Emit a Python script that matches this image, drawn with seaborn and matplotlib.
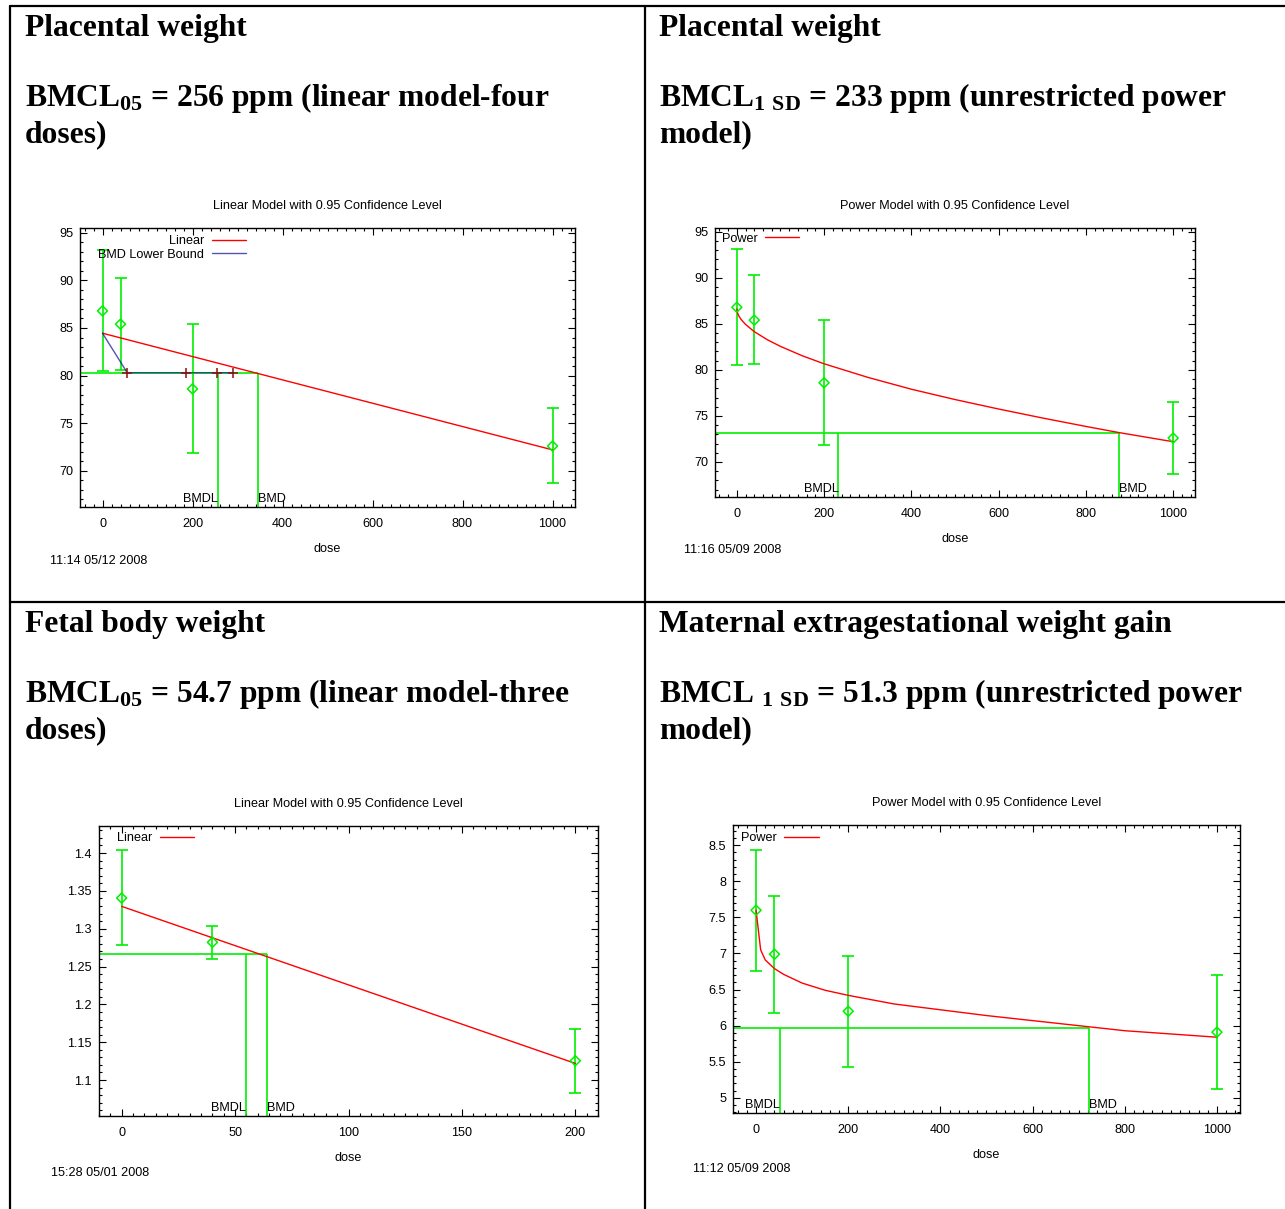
import numpy as np
import matplotlib
matplotlib.use("Agg")
import matplotlib.pyplot as plt
from matplotlib.lines import Line2D
from matplotlib.ticker import MultipleLocator, FormatStrFormatter
import seaborn as sns

# ---- values ----

# Placental weight (same dose groups in both top panels)
pw_dose = [0, 40, 200, 1000]
pw_mean = [86.8, 85.4, 78.6, 72.6]
pw_lo = [80.5, 80.6, 71.85, 68.7]
pw_hi = [93.15, 90.25, 85.4, 76.55]

# linear model, four doses
lin4_dose = [0, 1000]
lin4_fit = [84.45, 72.2]
lin4_bmr = 80.3
lin4_bmdl = 256
lin4_bmd = 345
# BMD lower bound line and its sample points
lb_dose = [0, 55, 290]
lb_fit = [84.45, 80.3, 80.3]
lb_marks = [55, 185, 255, 290]

# unrestricted power model
pow_dose = [0, 2, 5, 10, 20, 40, 70, 100, 150, 200, 300, 400, 500, 600, 700, 800, 875, 1000]
pow_fit = [86.6, 86.13, 85.82, 85.46, 84.93, 84.15, 83.27, 82.55, 81.53, 80.66,
           79.19, 77.9, 76.78, 75.75, 74.78, 73.86, 73.2, 72.2]
pow_bmr = 73.2
pow_bmdl = 233
pow_bmd = 875

# Fetal body weight
fb_dose = [0, 40, 200]
fb_mean = [1.3405, 1.282, 1.1255]
fb_lo = [1.278, 1.2605, 1.083]
fb_hi = [1.404, 1.3035, 1.167]
lin3_dose = [0, 200]
lin3_fit = [1.3295, 1.122]
lin3_bmr = 1.266
lin3_bmdl = 54.7
lin3_bmd = 64.2

# Maternal extragestational weight gain
mw_dose = [0, 40, 200, 1000]
mw_mean = [7.6, 6.99, 6.2, 5.91]
mw_lo = [6.76, 6.17, 5.43, 5.12]
mw_hi = [8.44, 7.8, 6.97, 6.7]
mpow_dose = [0, 10, 20, 30, 40, 60, 100, 150, 200, 250, 300, 400, 500, 600, 700, 800, 1000]
mpow_fit = [7.6, 7.05, 6.91, 6.85, 6.79, 6.71, 6.59, 6.49, 6.42, 6.36, 6.30,
            6.22, 6.14, 6.07, 6.0, 5.93, 5.84]
mpow_bmr = 5.97
mpow_bmdl = 51.3
mpow_bmd = 723

# ---- style ----
sns.set_style("ticks")
plt.rcParams['font.family'] = ['Liberation Sans', 'DejaVu Sans']
plt.rcParams['mathtext.default'] = 'regular'
for key in ['text.color', 'axes.labelcolor', 'xtick.color', 'ytick.color']:
    plt.rcParams[key] = 'black'

GREEN = '#00f000'
RED = '#ff0000'
NAVY = '#1a1a9a'
FS = 9.1
W, H = 1285, 1209

fig = plt.figure(figsize=(W / 100, H / 100), dpi=100)


# place axes by pixel box of the reference
def px_axes(left, top, right, bottom):
    return fig.add_axes([left / W, 1 - bottom / H, (right - left) / W, (bottom - top) / H])


def style_axes(ax, xlim, ylim, xmaj, xmin, ymaj, ymin, title):
    ax.set_xlim(*xlim)
    ax.set_ylim(*ylim)
    ax.xaxis.set_major_locator(MultipleLocator(xmaj))
    ax.xaxis.set_minor_locator(MultipleLocator(xmin))
    ax.yaxis.set_major_locator(MultipleLocator(ymaj))
    ax.yaxis.set_minor_locator(MultipleLocator(ymin))
    ax.yaxis.set_major_formatter(FormatStrFormatter('%g'))
    ax.tick_params(which='both', direction='in', top=True, right=True, width=0.8,
                   labelsize=FS, colors='black')
    ax.tick_params(which='major', length=5)
    ax.tick_params(which='minor', length=2.5)
    ax.tick_params(axis='x', pad=8)
    ax.tick_params(axis='y', pad=5)
    for s in ax.spines.values():
        s.set_visible(True)
        s.set_linewidth(1.0)
        s.set_color('black')
    ax.set_xlabel('dose', fontsize=FS, labelpad=9)
    ax.set_ylabel('')
    ax.set_title(title, fontsize=FS, pad=14)


def draw_data(ax, dose, mean, lo, hi):
    mean = np.array(mean)
    yerr = [mean - np.array(lo), np.array(hi) - mean]
    ax.errorbar(dose, mean, yerr=yerr, fmt='none', ecolor=GREEN, elinewidth=1.2,
                capsize=4.5, capthick=1.2, zorder=3)
    sns.scatterplot(x=dose, y=mean, ax=ax, marker='D', s=26, facecolor='none',
                    edgecolor=GREEN, linewidth=1.1, zorder=5)


def draw_bmd(ax, bmr, bmdl, bmd):
    x0 = ax.get_xlim()[0]
    y0 = ax.get_ylim()[0]
    ax.hlines(bmr, x0, bmd, color=GREEN, lw=1.2, zorder=2)
    ax.vlines([bmdl, bmd], y0, bmr, color=GREEN, lw=1.2, zorder=2)
    tr = ax.get_xaxis_transform()
    ax.annotate('BMDL', xy=(bmdl, 0), xycoords=tr, xytext=(0, 1.5), textcoords='offset points',
                ha='right', va='bottom', fontsize=FS)
    ax.annotate('BMD', xy=(bmd, 0), xycoords=tr, xytext=(0, 1.5), textcoords='offset points',
                ha='left', va='bottom', fontsize=FS)


def gp_legend(ax, loc, anchor):
    ax.legend(loc=loc, bbox_to_anchor=anchor, frameon=False, markerfirst=False,
              fontsize=FS, handlelength=2.7, handletextpad=0.6, labelspacing=0.15,
              borderaxespad=0, borderpad=0)


# ---- top left: linear model, placental weight ----
ax1 = px_axes(80, 228, 575, 507)
style_axes(ax1, (-50, 1050), (66.2, 95.5), 200, 20, 5, 1,
           'Linear Model with 0.95 Confidence Level')
draw_bmd(ax1, lin4_bmr, lin4_bmdl, lin4_bmd)
draw_data(ax1, pw_dose, pw_mean, pw_lo, pw_hi)
sns.lineplot(x=lin4_dose, y=lin4_fit, ax=ax1, color=RED, lw=1.0, label='Linear', zorder=4)
sns.lineplot(x=lb_dose, y=lb_fit, ax=ax1, color=NAVY, lw=1.0, alpha=0.75,
             label='BMD Lower Bound', zorder=4)
ax1.plot(lb_marks, [lin4_bmr] * len(lb_marks), ls='none', marker='+', ms=7, mew=1.1,
         color='#8b1010', zorder=6)
gp_legend(ax1, 'upper right', (0.335, 0.975))

# ---- top right: power model, placental weight ----
ax2 = px_axes(715, 228, 1195, 497)
style_axes(ax2, (-50, 1050), (66.2, 95.4), 200, 20, 5, 1,
           'Power Model with 0.95 Confidence Level')
draw_bmd(ax2, pow_bmr, pow_bmdl, pow_bmd)
draw_data(ax2, pw_dose, pw_mean, pw_lo, pw_hi)
sns.lineplot(x=pow_dose, y=pow_fit, ax=ax2, color=RED, lw=1.0, label='Power', zorder=4)
gp_legend(ax2, 'upper left', (0.014, 0.983))

# ---- bottom left: linear model, fetal body weight ----
ax3 = px_axes(99, 826, 598, 1116)
style_axes(ax3, (-10, 210), (1.0525, 1.4357), 50, 5, 0.05, 0.01,
           'Linear Model with 0.95 Confidence Level')
draw_bmd(ax3, lin3_bmr, lin3_bmdl, lin3_bmd)
draw_data(ax3, fb_dose, fb_mean, fb_lo, fb_hi)
sns.lineplot(x=lin3_dose, y=lin3_fit, ax=ax3, color=RED, lw=1.0, label='Linear', zorder=4)
gp_legend(ax3, 'upper left', (0.036, 0.978))

# ---- bottom right: power model, maternal weight gain ----
ax4 = px_axes(733, 825, 1240, 1113)
style_axes(ax4, (-50, 1050), (4.79, 8.78), 200, 20, 0.5, 0.1,
           'Power Model with 0.95 Confidence Level')
draw_bmd(ax4, mpow_bmr, mpow_bmdl, mpow_bmd)
draw_data(ax4, mw_dose, mw_mean, mw_lo, mw_hi)
sns.lineplot(x=mpow_dose, y=mpow_fit, ax=ax4, color=RED, lw=1.0, label='Power', zorder=4)
gp_legend(ax4, 'upper left', (0.016, 0.975))

# ---- timestamps ----
for x, y, s in [(50, 561, '11:14 05/12 2008'), (684, 550, '11:16 05/09 2008'),
                (51, 1173, '15:28 05/01 2008'), (693, 1169, '11:12 05/09 2008')]:
    fig.text(x / W, 1 - y / H, s, fontsize=FS, ha='left', va='center')

# ---- table headings ----
head = dict(family=['Liberation Serif', 'DejaVu Serif'], weight='bold', fontsize=22.7,
            color='black', ha='left', va='baseline')
headings = [
    (25, 36, 'Placental weight'),
    (25, 106, 'BMCL$_{05}$ = 256 ppm (linear model-four'),
    (25, 142, 'doses)'),
    (659, 36, 'Placental weight'),
    (659, 106, r'BMCL$_{1\ SD}$ = 233 ppm (unrestricted power'),
    (659, 142, 'model)'),
    (25, 632, 'Fetal body weight'),
    (25, 702, 'BMCL$_{05}$ = 54.7 ppm (linear model-three'),
    (25, 738, 'doses)'),
    (659, 632, 'Maternal extragestational weight gain'),
    (659, 702, r'BMCL $_{1\ SD}$ = 51.3 ppm (unrestricted power'),
    (659, 738, 'model)'),
]
for x, y, s in headings:
    fig.text(x / W, 1 - y / H, s, **head)

# ---- table rules ----
rules = [((10, 1285), (6, 6)), ((10, 1285), (602, 602)),
         ((10, 10), (6, 1209)), ((645, 645), (6, 1209))]
for xs, ys in rules:
    fig.add_artist(Line2D([v / W for v in xs], [1 - v / H for v in ys],
                          color='black', lw=1.6, transform=fig.transFigure))

fig.savefig('out.png', dpi=100, facecolor='white')
